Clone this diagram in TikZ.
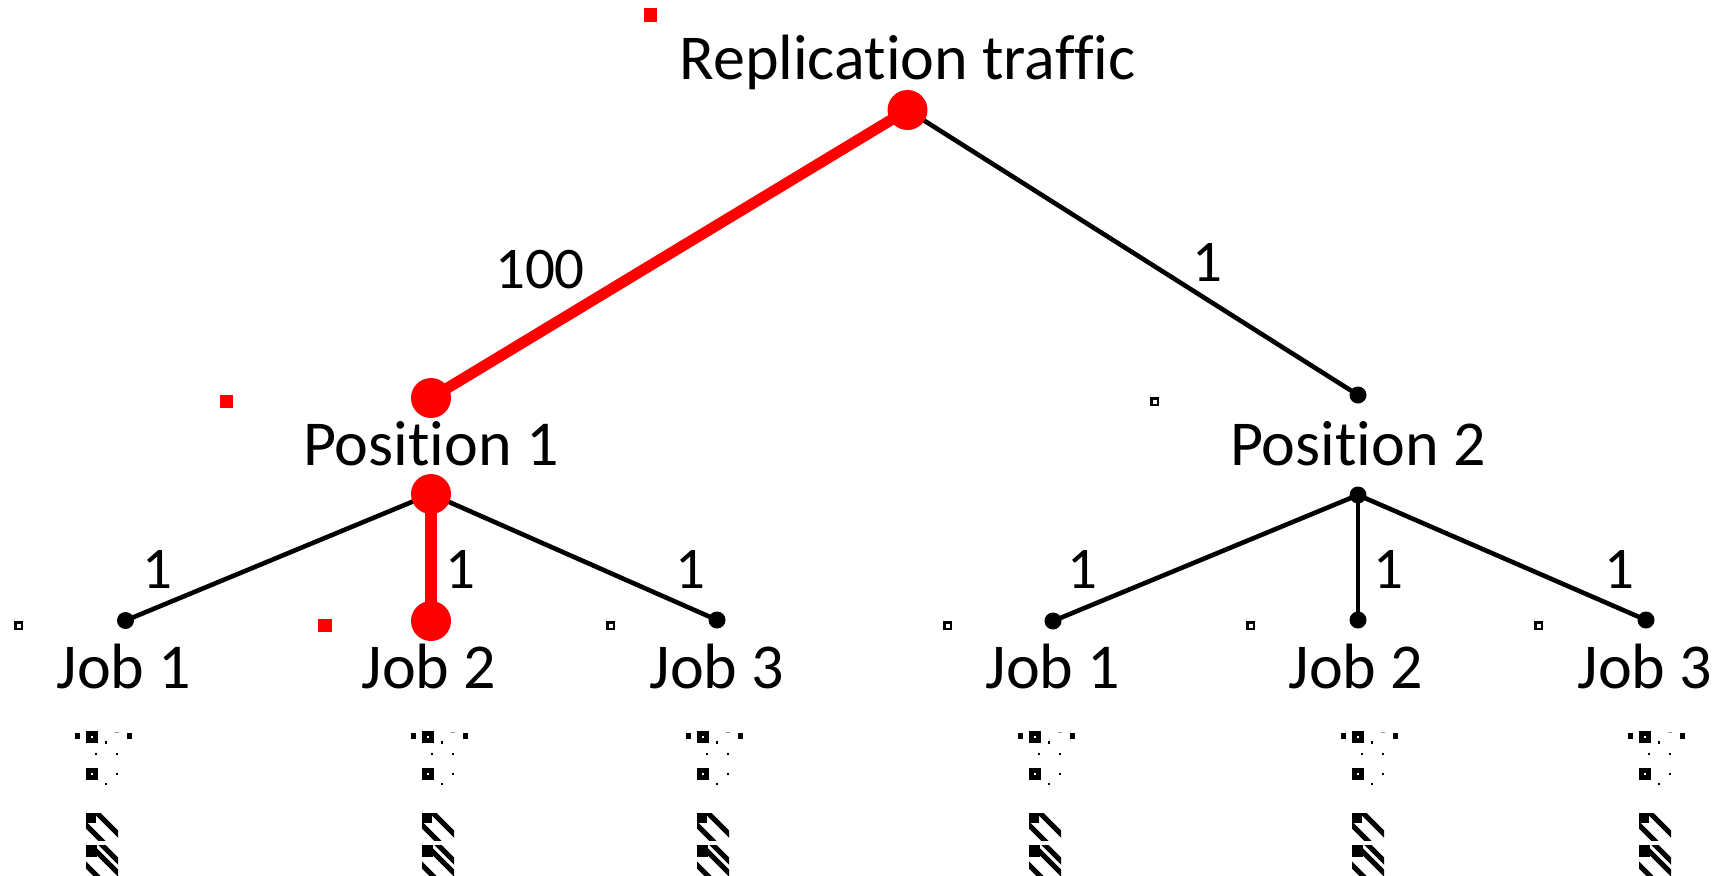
\documentclass[tikz,border=0pt]{standalone}
\usepackage{fontspec}
\setmainfont{Carlito}[Ligatures={NoCommon}]
\pgfdeclarelayer{paper}
\pgfdeclarelayer{edges}
\pgfsetlayers{paper,edges,main}
\begin{document}
\begin{tikzpicture}[x=0.5pt,y=-0.5pt,
  bigdot/.style={circle,fill=red,inner sep=0pt,minimum size=20pt},
  smalldot/.style={circle,fill=black,inner sep=0pt,minimum size=8.5pt},
  thinedge/.style={line width=2.3pt,black},
  hotedge/.style={line width=5.5pt,red},
  nodetext/.style={font=\fontsize{32}{38}\selectfont,anchor=base,inner sep=0pt},
  weighttext/.style={font=\fontsize{29.5}{36}\selectfont,anchor=base,inner sep=0pt},
  redmark/.style={fill=red},
  hollowmark/.style={draw=black,line width=1.25pt,fill=white},
  scribble/.pic={
    % top row of specks
    \fill (-17,733) rectangle (-12,739);
    \fill (-6,731) rectangle (6,743);
    \fill[white] (-1,736) rectangle (1,738);
    \fill (13,741) rectangle (15,744);
    \fill[black!40] (23,732) rectangle (27,733);
    \fill (35,733) rectangle (40,739);
    % middle specks
    \fill (3,753) rectangle (5,755);
    \fill (24,753) rectangle (26,755);
    \fill (-6,768) rectangle (6,780);
    \fill[white] (-1,773) rectangle (1,775);
    \fill (24,773) rectangle (26,775);
    \fill (13,783) rectangle (15,785);
    % striped blocks
    \begin{scope}
      \clip (-6,813) rectangle (26,840);
      \fill (-6,813) rectangle (4,823);
      \draw[line width=2.5pt] (-5,803) -- (45,853);
      \draw[line width=2.5pt] (-28,803) -- (22,853);
    \end{scope}
    \begin{scope}
      \clip (-6,845) rectangle (26,875);
      \fill (-6,845) rectangle (5,857);
      \draw[line width=2.5pt] (-12,835) -- (38,885);
      \draw[line width=2.5pt] (0,835) -- (50,885);
      \draw[line width=2.5pt] (-36,835) -- (14,885);
    \end{scope}
  }
]
\useasboundingbox (0,0) rectangle (1725,875);
\begin{pgfonlayer}{paper}
  \fill[white] (0,0) rectangle (1725,875);
\end{pgfonlayer}

% tree vertices
\node[bigdot] (root) at (907.5,110) {};
\node[bigdot] (p1top) at (431,398) {};
\node[bigdot] (p1bot) at (431,494) {};
\node[bigdot] (j12) at (431,621) {};
\node[smalldot] (j11) at (125.5,620.5) {};
\node[smalldot] (j13) at (717,620) {};
\node[smalldot] (p2top) at (1358,395) {};
\node[smalldot] (p2bot) at (1358,495) {};
\node[smalldot] (j21) at (1053,621) {};
\node[smalldot] (j22) at (1358,620) {};
\node[smalldot] (j23) at (1646,620) {};

% tree edges
\begin{pgfonlayer}{edges}
  \draw[hotedge] (root.center) -- (p1top.center);
  \draw[thinedge] (root.center) -- (p2top.center);
  \draw[thinedge] (p1bot.center) -- (j11.center);
  \draw[hotedge,line width=6pt] (p1bot.center) -- (j12.center);
  \draw[thinedge] (p1bot.center) -- (j13.center);
  \draw[thinedge] (p2bot.center) -- (j21.center);
  \draw[thinedge] (p2bot.center) -- (j22.center);
  \draw[thinedge] (p2bot.center) -- (j23.center);
\end{pgfonlayer}

% vertex names
\node[nodetext] (title) at (907.5,79) {Replication traffic};
\node[nodetext] (pos1) at (431,465) {Position 1};
\node[nodetext] (pos2) at (1358,465) {Position 2};
\node[nodetext] (job11) at (124,688) {Job 1};
\node[nodetext] (job12) at (429,688) {Job 2};
\node[nodetext] (job13) at (717,688) {Job 3};
\node[nodetext] (job21) at (1053,688) {Job 1};
\node[nodetext] (job22) at (1356,688) {Job 2};
\node[nodetext] (job23) at (1645,688) {Job 3};

% edge weights
\node[weighttext] (w0) at (540,288) {100};
\node[weighttext] (w1) at (1207,281) {1};
\node[weighttext] (w11) at (157,588) {1};
\node[weighttext] (w12) at (460,588) {1};
\node[weighttext] (w13) at (690,588) {1};
\node[weighttext] (w21) at (1082,588) {1};
\node[weighttext] (w22) at (1388,588) {1};
\node[weighttext] (w23) at (1619,588) {1};

% small markers
\fill[redmark] (644,8) rectangle (657,22);
\fill[redmark] (220,395) rectangle (233,408);
\fill[redmark] (318,619) rectangle (332,632);
\filldraw[hollowmark] (15.25,622.25) rectangle (21.75,628.75);
\filldraw[hollowmark] (607.25,622.25) rectangle (613.75,628.75);
\filldraw[hollowmark] (1151.25,398.25) rectangle (1157.75,404.75);
\filldraw[hollowmark] (944.25,622.25) rectangle (950.75,628.75);
\filldraw[hollowmark] (1247.25,622.25) rectangle (1253.75,628.75);
\filldraw[hollowmark] (1535.25,622.25) rectangle (1541.75,628.75);

% specks below the jobs
\foreach \cx in {92,428,703,1035,1358,1645}
  \pic at (\cx,0) {scribble};
\end{tikzpicture}
\end{document}
